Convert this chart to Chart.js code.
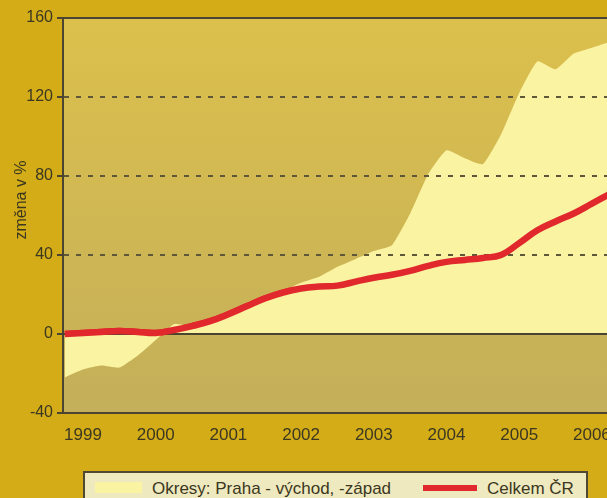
<!DOCTYPE html>
<html lang="cs">
<head>
<meta charset="UTF-8">
<title>Změna v %</title>
<script src="https://cdn.jsdelivr.net/npm/chart.js"></script>
<style>
    html, body {
        margin: 0;
        padding: 0;
        width: 607px;
        height: 498px;
        overflow: hidden;
        background: #d3ac18;
        font-family: "Liberation Sans", Arial, sans-serif;
    }
    .wrap {
        position: absolute;
        left: 0;
        top: 0;
        width: 700px;
        height: 460px;
    }
    .legend {
        position: absolute;
        left: 83px;
        top: 471px;
        width: 501px;
        height: 40px;
        background: #efe9bf;
        border: 2px solid #4f4832;
        color: #3b3721;
        font-size: 17px;
    }
    .legend span { position: absolute; top: 6px; line-height: 20px; white-space: nowrap; }
    .legend i { position: absolute; display: block; }
</style>
</head>
<body>
<div class="wrap"><canvas id="chart"></canvas></div>
<div class="legend">
    <i style="left:10px;top:9px;width:47px;height:11px;background:#f9f3a2"></i>
    <span style="left:67px">Okresy: Praha - východ, -západ</span>
    <i style="left:338px;top:12px;width:54px;height:6px;background:#e1282c"></i>
    <span style="left:402px">Celkem ČR</span>
</div>
<script>
    // quarters (decimal years) and values
    const periods = [1998.75, 1999, 1999.25, 1999.5, 1999.75, 2000, 2000.25, 2000.5, 2000.75,
        2001, 2001.25, 2001.5, 2001.75, 2002, 2002.25, 2002.5, 2002.75, 2003, 2003.25, 2003.5,
        2003.75, 2004, 2004.25, 2004.5, 2004.75, 2005, 2005.25, 2005.5, 2005.75, 2006, 2006.25];
    const okresy = [-22, -18, -16, -17, -11, -3, 5, 4, 7, 10, 14, 18, 22, 26, 29, 34, 38, 42, 45, 61,
        81, 93, 89, 86, 101, 122, 138, 134, 142, 145, 148];
    const celkem = [0, 0.5, 1, 1.5, 1, 0.5, 2, 4, 6.5, 10, 14, 18, 21, 23, 24, 24.5, 26.5, 28.5, 30, 32,
        34.5, 36.5, 37.5, 38.5, 40, 46, 52.5, 57, 61, 66, 71];
    const yearTicks = [1999, 2000, 2001, 2002, 2003, 2004, 2005, 2006];
    const yTicks = [-40, 0, 40, 80, 120, 160];
    const yTitle = 'změna v %';

    const ink = '#3b3721';
    const rule = '#4a4430';
    const family = '"Liberation Sans", Arial, sans-serif';

    const plotBg = {
        id: 'plotBg',
        beforeDraw(chart) {
            const { ctx, chartArea: a } = chart;
            const g = ctx.createLinearGradient(0, a.top, 0, a.bottom);
            g.addColorStop(0, '#dcc04c');
            g.addColorStop(1, '#c4af5a');
            ctx.save();
            ctx.fillStyle = g;
            ctx.fillRect(a.left, a.top, a.right - a.left, a.bottom - a.top);
            ctx.restore();
        }
    };

    // red line goes over the dashed grid, axis title sits a bit above centre
    const overlay = {
        id: 'overlay',
        afterDraw(chart) {
            const { ctx, chartArea: a } = chart;
            ctx.save();
            ctx.beginPath();
            ctx.rect(a.left - 3, a.top, a.right - a.left + 6, a.bottom - a.top);
            ctx.clip();
            chart.getDatasetMeta(1).controller.draw();
            ctx.restore();

            ctx.save();
            ctx.translate(22, 200);
            ctx.rotate(-Math.PI / 2);
            ctx.font = '16px ' + family;
            ctx.fillStyle = ink;
            ctx.textAlign = 'center';
            ctx.textBaseline = 'middle';
            ctx.fillText(yTitle, 0, 0);
            ctx.restore();
        }
    };

    const dashed = c => c.tick && [40, 80, 120].includes(c.tick.value);

    new Chart(document.getElementById('chart'), {
        type: 'line',
        data: {
            datasets: [{
                label: 'Okresy: Praha - východ, -západ',
                data: periods.map((p, i) => ({ x: p, y: okresy[i] })),
                fill: 'origin',
                backgroundColor: '#f9f3a2',
                borderWidth: 0,
                pointRadius: 0,
                tension: 0.15
            }, {
                label: 'Celkem ČR',
                data: periods.map((p, i) => ({ x: p, y: celkem[i] })),
                fill: false,
                borderColor: '#e1282c',
                borderWidth: 6.5,
                pointRadius: 0,
                tension: 0.4
            }]
        },
        options: {
            responsive: true,
            maintainAspectRatio: false,
            animation: false,
            layout: { padding: { top: 18, right: 0, bottom: 0, left: 0 } },
            plugins: { legend: { display: false }, tooltip: { enabled: false } },
            scales: {
                x: {
                    type: 'linear',
                    min: 1998.725,
                    max: 2007.487,
                    afterBuildTicks: s => { s.ticks = yearTicks.map(v => ({ value: v })); },
                    afterFit: s => { s.height = 47; },
                    grid: { display: false, drawTicks: false },
                    border: { display: true, color: rule, width: 2, z: 1 },
                    ticks: { padding: 12, color: ink, maxRotation: 0, font: { size: 17, family }, callback: v => String(v) }
                },
                y: {
                    min: -40,
                    max: 160,
                    afterBuildTicks: s => { s.ticks = yTicks.map(v => ({ value: v })); },
                    afterFit: s => { s.width = 63; },
                    grid: {
                        z: 1,
                        color: c => dashed(c) ? '#5f573a' : rule,
                        lineWidth: 2,
                        drawTicks: true,
                        tickLength: 6,
                        tickColor: rule,
                        tickWidth: 2
                    },
                    border: {
                        display: true, color: rule, width: 2, z: 1,
                        dash: c => dashed(c) ? [5, 7] : []
                    },
                    ticks: { padding: 4, color: ink, font: { size: 16, family } }
                }
            }
        },
        plugins: [plotBg, overlay]
    });
</script>
</body>
</html>
